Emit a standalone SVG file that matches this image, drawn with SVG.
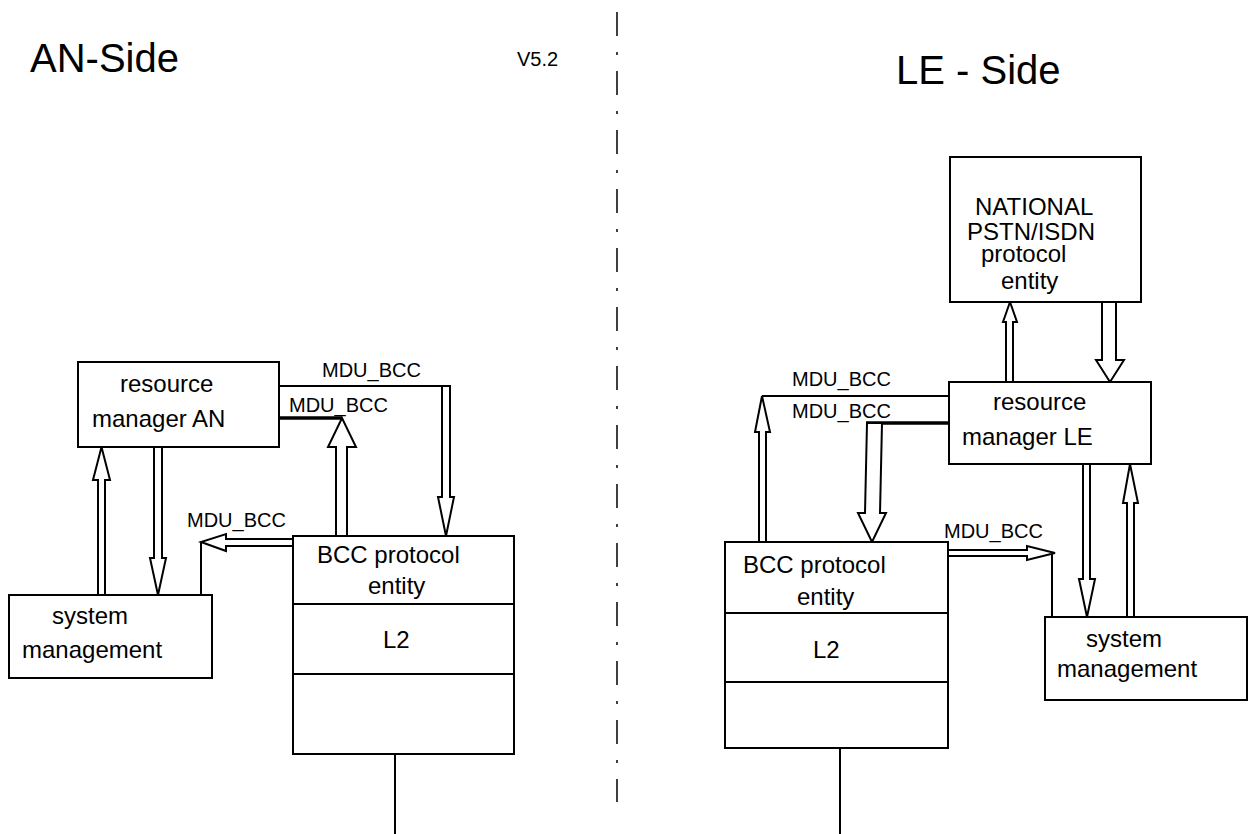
<svg xmlns="http://www.w3.org/2000/svg" width="1253" height="834" viewBox="0 0 1253 834">
<style>
text{font-family:"Liberation Sans",Arial,sans-serif;fill:#000}
.t{font-size:24px}
.lbl{font-size:20px}
.title{font-size:40px}
.box{fill:#fff;stroke:#000;stroke-width:2}
.ln{fill:none;stroke:#000;stroke-width:2}
.thick{fill:none;stroke:#000;stroke-width:3.5}
.arr{fill:#fff;stroke:#000;stroke-width:2;stroke-linejoin:miter}
.sep{fill:none;stroke:#000;stroke-width:1.5;stroke-dasharray:24 16 3 16}
</style>
<rect width="1253" height="834" fill="#fff"/>
<g id="titles">
<text class="title" x="30" y="72">AN-Side</text>
<text x="517" y="66" style="font-size:20px">V5.2</text>
<text class="title" x="896" y="84">LE - Side</text>
</g>
<line id="separator" class="sep" x1="617" y1="12" x2="617" y2="802"/>
<g id="connectors">
<!-- AN side -->
<polygon class="arr" points="98,595 98,480 93,480 101.5,447 110,480 105,480 105,595"/>
<polygon class="arr" points="154,447 154,558 150,558 158,595 166,558 162,558 162,447"/>
<polygon class="arr" points="336,536 336,447 328,447 342,418 356,447 347,447 347,536"/>
<line class="thick" x1="279" y1="418" x2="342" y2="418"/>
<polyline class="ln" points="279,386 446,386"/>
<polygon class="arr" points="442,386 442,497 438,497 446,536 454,497 450,497 450,386"/>
<polygon class="arr" points="293,539 226,539 226,534 201,542 226,551 226,546 293,546"/>
<line class="ln" x1="201" y1="542" x2="201" y2="595"/>
<line class="ln" x1="395" y1="754" x2="395" y2="834"/>
<!-- LE side -->
<polygon class="arr" points="1006,382 1006,322 1003,322 1010,302 1017,322 1013,322 1013,382"/>
<polygon class="arr" points="1102,302 1102,360 1096,360 1110,382 1124,360 1116,360 1116,302"/>
<polyline class="ln" points="949,396 762,396"/>
<polygon class="arr" points="759,542 759,432 755,432 762,396 770,432 766,432 766,542"/>
<line class="thick" x1="866" y1="423" x2="950" y2="423"/>
<polygon class="arr" points="867,423 865,513 858,513 872,542 886,513 880,513 882,423"/>
<polygon class="arr" points="948,550 1027,550 1027,546 1055,553 1027,560 1027,556 948,556"/>
<line class="ln" x1="1052" y1="553" x2="1052" y2="617"/>
<polygon class="arr" points="1083,464 1083,579 1079,579 1087,617 1095,579 1090,579 1090,464"/>
<polygon class="arr" points="1127,617 1127,503 1123,503 1130,464 1138,503 1134,503 1134,617"/>
<line class="ln" x1="840" y1="748" x2="840" y2="834"/>
<!-- labels -->
<text class="lbl" x="322" y="377">MDU_BCC</text>
<text class="lbl" x="289" y="412">MDU_BCC</text>
<text class="lbl" x="187" y="527">MDU_BCC</text>
<text class="lbl" x="792" y="386">MDU_BCC</text>
<text class="lbl" x="792" y="418">MDU_BCC</text>
<text class="lbl" x="944" y="538">MDU_BCC</text>
</g>
<g id="rm-an">
<rect class="box" x="78" y="362" width="201" height="85"/>
<text class="t" x="120" y="392">resource</text>
<text class="t" x="92" y="427">manager AN</text>
</g>
<g id="sm-an">
<rect class="box" x="9" y="595" width="203" height="83"/>
<text class="t" x="52" y="624">system</text>
<text class="t" x="22" y="658">management</text>
</g>
<g id="bcc-an">
<rect class="box" x="293" y="536" width="221" height="218"/>
<line class="ln" x1="293" y1="604" x2="514" y2="604"/>
<line class="ln" x1="293" y1="674" x2="514" y2="674"/>
<text class="t" x="317" y="563">BCC protocol</text>
<text class="t" x="368" y="594">entity</text>
<text class="t" x="383" y="648">L2</text>
</g>
<g id="nat-le">
<rect class="box" x="950" y="157" width="191" height="145"/>
<text class="t" x="975" y="215">NATIONAL</text>
<text class="t" x="967" y="240">PSTN/ISDN</text>
<text class="t" x="981" y="262">protocol</text>
<text class="t" x="1001" y="289">entity</text>
</g>
<g id="rm-le">
<rect class="box" x="949" y="382" width="202" height="82"/>
<text class="t" x="993" y="410">resource</text>
<text class="t" x="962" y="445">manager LE</text>
</g>
<g id="bcc-le">
<rect class="box" x="725" y="542" width="223" height="206"/>
<line class="ln" x1="725" y1="613" x2="948" y2="613"/>
<line class="ln" x1="725" y1="682" x2="948" y2="682"/>
<text class="t" x="743" y="573">BCC protocol</text>
<text class="t" x="797" y="605">entity</text>
<text class="t" x="813" y="658">L2</text>
</g>
<g id="sm-le">
<rect class="box" x="1045" y="617" width="202" height="83"/>
<text class="t" x="1086" y="647">system</text>
<text class="t" x="1057" y="677">management</text>
</g>
</svg>
